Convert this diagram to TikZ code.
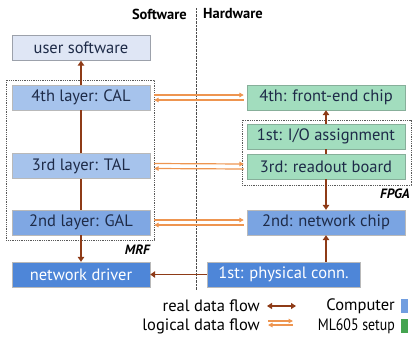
\documentclass[tikz,border=0pt]{standalone}
\usepackage{fontspec}
\setmainfont{PT Sans}
\usetikzlibrary{arrows.meta}

\definecolor{realflow}{HTML}{8E3B17}
\definecolor{logflow}{HTML}{EE9550}
\definecolor{boxtext}{HTML}{1E2B48}
\definecolor{userfill}{HTML}{DFE6F5}
\definecolor{layerfill}{HTML}{A6C3EC}
\definecolor{galfill}{HTML}{7FA7E3}
\definecolor{drvfill}{HTML}{4E86D8}
\definecolor{hwfill}{HTML}{A2DDBE}

\begin{document}
\begin{tikzpicture}[x=1pt,y=-1pt,font=\fontsize{16.5}{18}\selectfont]
    \tikzstyle{blk}=[draw=gray!55, text=boxtext, minimum height=25pt, inner sep=0pt]
    \tikzstyle{swblk}=[blk, minimum width=138pt]
    \tikzstyle{hwblk}=[blk, minimum width=158pt, fill=hwfill, draw=hwfill!75!black!90]
    \tikzstyle{grp}=[densely dotted, thick, draw=black!65]
    \tikzstyle{rarr}=[line width=1.4pt, draw=realflow, -{Triangle[length=5pt,width=6.5pt]}]
    \tikzstyle{rline}=[line width=1.4pt, draw=realflow]
    \tikzstyle{larr}=[draw=logflow, line width=1.2pt, -{Triangle[length=4.5pt,width=4.5pt]}]
    \tikzstyle{lgtxt}=[anchor=east, inner sep=0pt]

    \useasboundingbox (0,0) rectangle (413,338);

    % software / hardware split
    \draw[densely dotted, black!70] (196,8) -- (196,290);
    \node[anchor=east, inner sep=0pt, font=\fontsize{14.5}{16}\selectfont\bfseries] (swlbl) at (187,14) {Software};
    \node[anchor=west, inner sep=0pt, font=\fontsize{14.5}{16}\selectfont\bfseries] (hwlbl) at (203,14) {Hardware};

    % groups
    \draw[grp] (6,80) rectangle (154,240);
    \node[anchor=east, inner sep=0pt, font=\fontsize{13.5}{15}\selectfont\bfseries\itshape] (mrf) at (150,250) {MRF};
    \draw[grp] (242,120) rectangle (411,185);
    \node[anchor=east, inner sep=0pt, font=\fontsize{13.5}{15}\selectfont\bfseries\itshape] (fpga) at (410,194) {FPGA};

    % software side
    \node[swblk, fill=userfill, draw=userfill!70!black] (usr) at (81,48) {user software};
    \node[swblk, fill=layerfill] (cal) at (81,97.5) {4th layer: CAL};
    \node[swblk, fill=layerfill] (tal) at (81,166) {3rd layer: TAL};
    \node[swblk, fill=galfill] (gal) at (81,222.5) {2nd layer: GAL};
    \node[swblk, fill=drvfill, text=white] (drv) at (81,274.5) {network driver};

    % hardware side
    \node[hwblk] (fec) at (326,97.5) {4th: front-end chip};
    \node[hwblk] (io) at (326,136.5) {1st: I/O assignment};
    \node[hwblk] (rob) at (326,166.5) {3rd: readout board};
    \node[blk, minimum width=158pt, fill=galfill!90!drvfill] (nwc) at (326,222.5) {2nd: network chip};
    \node[blk, minimum width=153pt, fill=drvfill, text=white] (phy) at (283.5,274.5) {1st: physical conn.};

    % real data flow
    \draw[rarr] (cal) -- (usr);
    \draw[rline] (tal) -- (cal);
    \draw[rline] (gal) -- (tal);
    \draw[rarr] (gal) -- (drv);
    \draw[rarr] (io) -- (fec);
    \draw[rline] (io) -- (rob);
    \draw[rarr] (rob) -- (nwc);
    \draw[rarr] (phy.north -| nwc) -- (nwc);
    \draw[rarr] (phy) -- (drv);

    % logical data flow
    \foreach \sw/\hw in {cal/fec, tal/rob, gal/nwc} {
        \draw[larr] ([xshift=-3pt,yshift=-2.5pt]\hw.west) -- ([xshift=4pt,yshift=-2.5pt]\sw.east);
        \draw[larr] ([xshift=4pt,yshift=2.5pt]\sw.east) -- ([xshift=-3pt,yshift=2.5pt]\hw.west);
    }

    % legend
    \node[lgtxt] (lgreal) at (260,306) {real data flow};
    \node[lgtxt] (lglog) at (260,326) {logical data flow};
    \node[lgtxt] (lgpc) at (395,306) {Computer};
    \node[lgtxt, xscale=0.84] (lgml) at (395,326) {ML605 setup};
    \coordinate (rs) at (267,306);
    \coordinate (re) at (296,306);
    \draw[line width=1.4pt, draw=realflow, {Triangle[length=5pt,width=6pt]}-{Triangle[length=5pt,width=6pt]}] (rs) -- (re);
    \coordinate (ls) at (268,324);
    \coordinate (le) at (293,324);
    \draw[larr] ([yshift=-1pt]le) -- ([yshift=-1pt]ls);
    \draw[larr] ([yshift=3pt]ls) -- ([yshift=3pt]le);
    \fill[drvfill!80!white] (401,299) rectangle (408,313);
    \fill[hwfill!60!green!70!black] (401,319) rectangle (408,333);
\end{tikzpicture}
\end{document}
